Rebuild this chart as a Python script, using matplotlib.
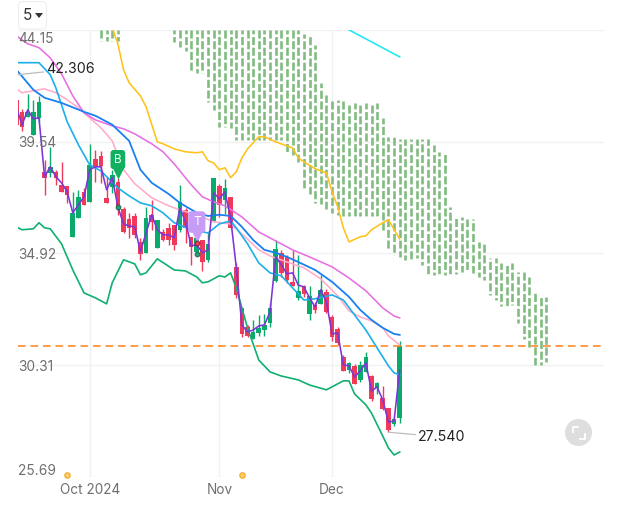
import matplotlib
matplotlib.use('Agg')
import matplotlib.pyplot as plt
from matplotlib.patches import FancyBboxPatch, Circle, Polygon
from matplotlib.lines import Line2D

plt.rcParams['font.family'] = ['Inter', 'DejaVu Sans']
plt.rcParams['lines.scale_dashes'] = False

# candles, bar index 0 = 1 Oct 2024
bar_x = list(range(-13, 56))
bar_high = [41.81, 40.90, 41.52, 41.27, 41.43, 38.79, 39.33, 38.38, 38.71, 37.71, 37.47, 37.55, 37.63,
            39.45, 39.20, 39.16, 38.09, 38.38, 38.05, 36.85, 36.60, 36.60, 35.57, 36.85, 37.14, 36.31,
            35.94, 36.19, 36.10, 37.76, 36.81, 35.61, 35.57, 35.48, 35.77, 38.05, 37.80, 38.00, 37.26,
            34.53, 32.67, 31.97, 32.18, 32.38, 32.43, 32.88, 35.48, 35.07, 34.86, 35.07, 34.86, 33.62,
            33.58, 32.92, 34.04, 33.46, 32.38, 31.89, 30.73, 30.44, 30.36, 30.48, 30.86, 29.90, 29.62,
            29.45, 28.54, 28.13, 31.31]
bar_low = [40.23, 39.99, 40.57, 39.82, 40.36, 37.34, 38.09, 37.76, 37.47, 37.01, 35.61, 36.39, 36.93,
           37.05, 37.88, 37.84, 37.01, 37.43, 36.52, 35.77, 35.57, 35.57, 34.66, 34.95, 35.90, 35.15,
           35.44, 35.28, 35.07, 35.81, 35.36, 34.45, 34.86, 34.20, 34.57, 36.23, 36.43, 36.56, 35.98,
           33.09, 31.48, 31.48, 31.39, 31.52, 31.52, 31.89, 33.75, 33.95, 33.71, 33.58, 33.00, 33.13,
           32.18, 32.47, 32.84, 32.47, 31.31, 31.14, 30.07, 29.99, 29.53, 29.62, 30.03, 28.83, 29.12,
           28.46, 27.54, 27.80, 27.92]
bar_open = [41.27, 40.77, 40.57, 39.82, 40.52, 38.29, 38.25, 38.29, 37.76, 37.71, 35.61, 36.39, 37.47,
            37.05, 38.83, 38.95, 37.22, 37.67, 37.88, 36.76, 36.35, 36.47, 35.40, 34.95, 36.52, 35.15,
            35.81, 35.98, 36.10, 35.90, 36.72, 35.61, 34.99, 35.48, 34.66, 36.27, 37.71, 37.14, 37.26,
            34.37, 32.67, 31.89, 31.39, 31.64, 31.76, 32.05, 33.79, 34.95, 34.78, 33.75, 33.09, 33.58,
            32.43, 32.80, 32.84, 33.33, 32.30, 31.81, 30.65, 30.11, 30.28, 29.70, 30.03, 29.86, 29.37,
            28.96, 28.54, 27.88, 28.13]
bar_close = [40.23, 40.15, 40.77, 40.77, 41.19, 38.05, 38.50, 38.05, 37.47, 37.34, 36.60, 37.26, 36.93,
             38.58, 38.50, 38.54, 37.01, 38.17, 36.85, 35.81, 35.98, 35.69, 34.90, 36.39, 36.23, 36.31,
             35.48, 35.48, 35.28, 37.05, 35.98, 35.19, 35.57, 34.57, 35.32, 38.05, 36.93, 37.63, 35.98,
             33.21, 31.60, 31.52, 31.68, 31.85, 31.97, 32.67, 35.11, 34.12, 33.83, 33.58, 33.38, 33.25,
             33.17, 32.59, 33.42, 32.51, 31.48, 31.23, 30.07, 30.40, 29.53, 30.32, 30.65, 28.91, 29.57,
             28.50, 27.63, 28.09, 31.10]

close_line = [40.94, 40.23, 40.85, 40.48, 40.52, 38.09, 38.50, 38.09, 37.84, 37.47, 36.60, 36.93, 37.26,
              38.38, 38.50, 38.50, 37.55, 38.05, 36.85, 36.14, 36.06, 36.02, 34.99, 35.77, 36.52, 35.90,
              35.69, 35.69, 35.57, 36.81, 36.23, 35.24, 35.28, 34.95, 35.07, 37.43, 37.18, 37.47, 36.39,
              34.37, 31.97, 31.68, 31.76, 31.93, 31.97, 32.51, 34.78, 34.45, 34.08, 34.12, 33.62, 33.54,
              33.09, 32.71, 33.42, 32.92, 31.60, 31.64, 30.32, 30.28, 29.82, 30.07, 30.40, 29.24, 29.41,
              28.87, 27.96, 28.00, 30.11]

blue_x = [-13, -10, -8, -5, -1, 1, 4, 7, 9, 11, 14, 16, 19, 21, 23, 25, 27, 29, 31, 33, 35, 37, 40, 43, 46, 48, 50, 52, 54, 55]
blue_y = [42.51, 41.68, 41.35, 41.14, 40.77, 40.61, 40.24, 39.57, 38.38, 37.84, 37.38, 37.01, 36.60, 36.47, 36.52,
          36.47, 36.02, 35.48, 35.07, 34.95, 34.78, 34.57, 34.24, 33.75, 33.13, 32.59, 32.18, 31.85, 31.60, 31.56]

sky_x = [-13, -9, -7, -6, -4, -2, 0, 2, 5, 7, 9, 11, 13, 15, 18, 21, 23, 25, 26, 28, 30, 32, 34, 36, 38, 40, 43, 45, 47, 49, 51, 53, 54, 55]
sky_y = [42.80, 42.80, 42.30, 41.76, 40.36, 39.41, 38.58, 38.33, 37.63, 37.30, 37.01, 36.89, 36.60, 36.19, 35.90,
         35.77, 36.14, 36.27, 35.98, 35.32, 34.53, 34.12, 34.00, 33.50, 33.00, 33.05, 33.21, 33.00, 32.38, 31.76,
         31.02, 30.28, 29.99, 29.91]

magenta_x = [-13, -11, -9, -7, -5, -3, -1, 1, 4, 6, 8, 11, 13, 15, 18, 20, 22, 24, 27, 30, 33, 36, 39, 43, 46, 49, 52, 54, 55]
magenta_y = [43.91, 43.58, 43.42, 43.00, 42.34, 41.43, 40.73, 40.44, 40.19, 40.07, 39.86, 39.45, 39.12, 38.62, 37.76,
             37.26, 37.05, 36.89, 36.43, 35.81, 35.44, 35.07, 34.78, 34.37, 33.91, 33.38, 32.67, 32.34, 32.26]

pink_x = [-13, -12, -10, -8, -6, -4, -2, 0, 2, 4, 6, 8, 11, 14, 16, 19, 22, 25, 27, 30, 32, 35, 38, 41, 44, 46, 48, 50, 52, 53, 55]
pink_y = [41.72, 41.56, 41.64, 41.72, 41.56, 41.27, 40.94, 40.52, 40.11, 39.57, 38.38, 37.80, 37.22, 36.89, 36.72,
          36.52, 36.23, 36.14, 35.73, 35.07, 34.82, 34.57, 34.33, 33.87, 33.17, 32.55, 32.30, 32.14, 31.85, 31.52, 31.14]

lower_x = [-13, -12, -10, -9, -8, -7, -5, -3, -1, 1, 3, 4, 6, 8, 9, 10, 12, 15, 17, 19, 20, 21, 23, 24, 25, 26, 28, 30,
           32, 34, 37, 39, 42, 45, 46, 47, 49, 50, 52, 53, 54, 55]
lower_y = [36.02, 35.90, 35.94, 36.19, 35.98, 35.94, 35.32, 34.24, 33.29, 33.09, 32.84, 33.71, 34.66, 34.49, 34.04,
           34.12, 34.70, 34.24, 34.20, 33.95, 33.71, 33.75, 34.00, 33.95, 34.12, 33.50, 31.85, 30.52, 30.03, 29.86,
           29.70, 29.49, 29.29, 29.66, 29.66, 29.12, 28.67, 28.33, 27.38, 26.89, 26.60, 26.72]

yellow_x = [4, 5, 6, 7, 9, 10, 12, 13, 15, 17, 19, 20, 21, 22, 23, 24, 25, 26, 27, 28, 30, 31, 33, 36, 37, 38, 40, 42,
            43, 44, 45, 46, 48, 49, 50, 52, 53, 55]
yellow_y = [44.24, 43.58, 42.51, 41.97, 41.43, 40.98, 39.53, 39.45, 39.24, 39.12, 39.08, 39.12, 38.75, 38.66, 38.38,
            38.46, 38.05, 38.29, 38.87, 39.24, 39.74, 39.74, 39.53, 39.28, 38.87, 38.71, 38.42, 38.25, 37.47, 36.85,
            35.98, 35.40, 35.61, 35.65, 35.90, 36.19, 36.31, 35.52]

cyan_x = [45, 55]
cyan_y = [44.28, 43.04]

# cloud columns, top values are cut by the chart top
cloud_x = [2, 3, 4, 5] + list(range(15, 82))
cloud_hi = [44.15] * 4 + [44.15] * 23 + [
    43.99, 43.99, 43.54, 41.97, 41.47, 41.27, 41.27, 41.27, 41.14, 41.14, 41.14, 41.14, 41.14, 41.14,
    40.52, 39.74, 39.74, 39.66, 39.66, 39.66, 39.66, 39.66, 39.66, 39.41, 39.12, 39.12, 36.85, 36.43,
    36.43, 36.35, 36.35, 35.40, 35.36, 34.74, 34.74, 34.53, 34.53, 34.53, 34.16, 34.16, 33.95, 33.33,
    33.13, 33.13]
cloud_lo = [43.71] * 4 + [
    43.66, 43.46, 43.29, 42.47, 42.38, 42.38, 41.19, 40.85, 40.15, 40.15, 40.11, 39.61, 39.61, 39.61,
    39.61, 39.61, 39.61, 39.61, 39.61, 39.61, 39.04, 39.00, 38.71, 37.55, 37.38, 37.01, 36.97, 36.76,
    36.60, 36.52, 36.47, 36.47, 36.47, 36.47, 36.47, 36.47, 36.39, 35.90, 35.07, 34.86, 34.78, 34.66,
    34.66, 34.74, 34.45, 34.04, 34.04, 34.04, 34.04, 34.08, 34.08, 34.16, 34.24, 34.12, 33.95, 33.83,
    33.21, 33.00, 32.76, 32.76, 32.80, 32.05, 31.39, 31.06, 30.32, 30.32, 30.44]

y_ticks = [44.15, 39.54, 34.92, 30.31, 25.69]
y_labels = ['44.15', '39.54', '34.92', '30.31', '25.69']
y_label_shift = [-6.5, -1, -1, -1, 4.5]
x_ticks = [0, 23, 43]
x_labels = ['Oct 2024', 'Nov', 'Dec']

last_price = 31.10
high_price = 42.306
high_x = -12.7
low_price = 27.54
low_x = 53

dot_x = [-4, 27]
dot_y = [25.77, 25.77]

RED = '#f03a5a'
GREEN = '#0aa96c'
W, H = 621, 508

fig = plt.figure(figsize=(W / 100, H / 100), dpi=100)
ax = fig.add_axes([18 / W, (H - 477) / H, 586 / W, 447 / H])
ax.set_xlim(-12.72, 91.25)
ax.set_ylim(25.69, 44.15)
for s in ax.spines.values():
    s.set_visible(False)

ax.set_yticks(y_ticks)
ax.set_yticklabels([])
ax.set_xticks(x_ticks)
ax.set_xticklabels(x_labels, fontsize=9.8, color='#6f6f6f')
ax.tick_params(length=0, pad=4.5)
ax.grid(True, color='#f1f1f1', lw=1)
ax.set_axisbelow(True)

for val, lab, shift in zip(y_ticks, y_labels, y_label_shift):
    ax.annotate(lab, xy=(0, val), xycoords=('axes fraction', 'data'), xytext=(0, shift),
                textcoords='offset points', fontsize=9.9, color='#6f6f6f', va='center', zorder=8)

# cloud
for x, hi, lo in zip(cloud_x, cloud_hi, cloud_lo):
    phase = (44.15 - hi) * 24.2 * 0.72 + (x % 2) * 3.0
    ax.plot([x, x], [hi, lo], color='#82bb82', lw=1.9, dash_capstyle='butt',
            linestyle=(phase, (5.8, 1.9)), zorder=2)

# candles
for x, h, l, o, c in zip(bar_x, bar_high, bar_low, bar_open, bar_close):
    col = GREEN if c >= o else RED
    ax.vlines(x, l, h, color=col, lw=1.0, zorder=3)
    ax.bar(x, abs(c - o), bottom=min(o, c), width=0.82, color=col, lw=0, zorder=3)

ax.plot(yellow_x, yellow_y, color='#ffc21a', lw=1.15, zorder=4)
ax.plot(cyan_x, cyan_y, color='#1de9f2', lw=1.15, zorder=4)
ax.plot(lower_x, lower_y, color='#10b070', lw=1.2, zorder=4)
ax.plot(pink_x, pink_y, color='#ffacca', lw=1.15, zorder=4)
ax.plot(magenta_x, magenta_y, color='#e76ee3', lw=1.15, zorder=4)
ax.plot(sky_x, sky_y, color='#1ab0ea', lw=1.2, zorder=4)
ax.plot(blue_x, blue_y, color='#1a80f2', lw=1.3, zorder=4)
ax.plot(bar_x, close_line, color='#7d35d8', lw=1.15, zorder=5)

ax.axhline(last_price, color='#ff8c2a', lw=1.2, linestyle=(0, (5.5, 3.5)), zorder=6)

# buy/sell badges
ax.plot(5, 38.25, marker='v', ms=9, color='#10b060', mec='none', zorder=6)
ax.annotate('B', xy=(5, 38.8), fontsize=8.5, color='#e8fff2', ha='center', va='center', zorder=7,
            bbox=dict(boxstyle='round,pad=0.3,rounding_size=0.25', fc='#10b060', ec='none'))
ax.plot(19, 35.7, marker='v', ms=10, color='#c79cf6', mec='none', zorder=6)
ax.annotate('T', xy=(19, 36.22), fontsize=8.5, color='white', ha='center', va='center', zorder=7,
            bbox=dict(boxstyle='round,pad=0.4,rounding_size=0.25', fc='#c79cf6', ec='none'))
ax.plot([5, 19], [36.82, 34.88], ls='none', marker='o', ms=3.5, color='#22a070', mec='#1c5a48', mew=0.6, zorder=7)
ax.plot(19, 35.35, marker='o', ms=3.5, color=RED, mec='#7a2030', mew=0.6, zorder=7)

ax.plot(dot_x, dot_y, ls='none', marker='o', ms=3.8, mfc='#ffd46a', mec='#f5ae2e', mew=1, clip_on=False, zorder=7)

leader = dict(arrowstyle='-', color='#bdbdbd', lw=0.9, shrinkA=0, shrinkB=0)
ax.annotate('42.306', xy=(high_x, high_price), xytext=(20.5, 4), textcoords='offset points',
            fontsize=10.2, color='#222222', va='center', arrowprops=leader, zorder=8)
ax.annotate('27.540', xy=(low_x, low_price), xytext=(21.5, -3.5), textcoords='offset points',
            fontsize=10.2, color='#222222', va='center', arrowprops=leader, zorder=8)

# "5" period button and the fullscreen icon, placed by pixel
to_fig = fig.transFigure
def fx(x):
    return x / W
def fy(y):
    return 1 - y / H

fig.add_artist(FancyBboxPatch((fx(18.5), fy(29)), 28 / W, 27.5 / H, transform=to_fig,
                              boxstyle='round,pad=0,rounding_size=0.008', fc='white', ec='#eeeeee', lw=0.8))
fig.text(fx(23), fy(15), '5', fontsize=11, color='#333333', va='center')
fig.add_artist(Polygon([(fx(35), fy(13)), (fx(43), fy(13)), (fx(39), fy(18))], transform=to_fig, fc='#333333', ec='none'))

cx, cy = 578.5, 432.5
fig.add_artist(Circle((cx, H - cy), 13.5, transform=None, fc='#dedede', ec='none'))
for pts in ([(-6, -1), (-6, -6), (-1, -6)], [(6, 1), (6, 6), (1, 6)]):
    fig.add_artist(Line2D([fx(cx + p[0]) for p in pts], [fy(cy + p[1]) for p in pts],
                          transform=to_fig, color='white', lw=1.3))

fig.savefig('out.png', dpi=100)
